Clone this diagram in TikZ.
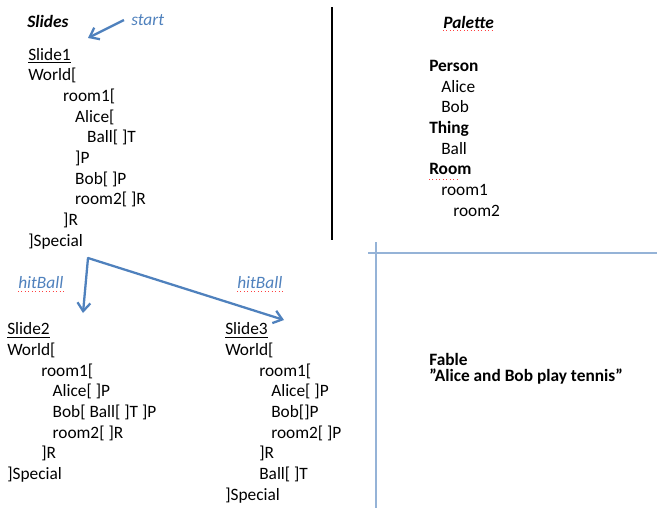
\documentclass[tikz,border=0pt]{standalone}
\usepackage{fontspec}
\setmainfont{Carlito}
\usetikzlibrary{arrows.meta,positioning}
\definecolor{arrowblue}{HTML}{4F81BD}
\definecolor{ruleblue}{HTML}{95B3D7}
\newcommand{\ind}[1]{\hspace*{#1pt}}

\begin{document}
\begin{tikzpicture}[
  x=0.75pt,y=-0.75pt,
  txtblock/.style={anchor=north west,inner sep=0pt,align=left,
    font=\fontsize{13}{15.5}\selectfont},
  lblblue/.style={anchor=west,inner sep=0pt,text=arrowblue,
    font=\fontsize{13}{15.5}\selectfont\itshape},
  flowarrow/.style={draw=arrowblue,line width=1.7pt,
    -{Straight Barb[length=2.2mm,width=3.4mm]}},
  spellmark/.style={draw=red!75,line width=0.6pt,dotted},
  splitline/.style={draw=ruleblue,line width=0.8pt}
]
\useasboundingbox[fill=white](0,0)rectangle(657,508);

% titles
\node[txtblock,anchor=west](slidesTitle)at(27,21){\textbf{\textit{Slides}}};
\node[lblblue](startLbl)at(131,20){start};
\node[txtblock,anchor=west](paletteTitle)at(443,22){\textbf{\textit{Palette}}};

% slide 1
\node[txtblock](slideOne)at(28,48){%
  \underline{Slide1}\\
  World[\\
  \ind{26.2}room1[\\
  \ind{35.2}Alice[\\
  \ind{44.2}Ball[ ]T\\
  \ind{35.2}]P\\
  \ind{35.2}Bob[ ]P\\
  \ind{35.2}room2[ ]R\\
  \ind{26.2}]R\\
  ]Special};

% slide 2 and slide 3
\node[txtblock](slideTwo)at(7,322.5){%
  \underline{Slide2}\\
  World[\\
  \ind{25.5}room1[\\
  \ind{34}Alice[ ]P\\
  \ind{34}Bob[ Ball[ ]T ]P\\
  \ind{34}room2[ ]R\\
  \ind{25.5}]R\\
  ]Special};
\node[txtblock](slideThree)at(225,322.5){%
  \underline{Slide3}\\
  World[\\
  \ind{25.5}room1[\\
  \ind{34.5}Alice[ ]P\\
  \ind{34.5}Bob[]P\\
  \ind{34.5}room2[ ]P\\
  \ind{25.5}]R\\
  \ind{25.5}Ball[ ]T\\
  ]Special};

% palette
\node[txtblock](paletteList)at(429,60){%
  \textbf{Person}\\
  \ind{9}Alice\\
  \ind{9}Bob\\
  \textbf{Thing}\\
  \ind{9}Ball\\
  \textbf{Room}\\
  \ind{9}room1\\
  \ind{18}room2};

% fable
\node[txtblock,anchor=west,font=\fontsize{13}{15.5}\selectfont\bfseries](fableTxt)at(429,359){Fable};
\node[txtblock,anchor=west,font=\fontsize{13}{15.5}\selectfont\bfseries](fableLine)at(429,377){”Alice and Bob play tennis”};

% labels on the branches
\node[lblblue](hitLeft)at(18,283){hitBall};
\node[lblblue](hitRight)at(237,283){hitBall};

% spelling marks
\draw[spellmark]([yshift=-1.5pt]hitLeft.south west)--([yshift=-1.5pt]hitLeft.south east);
\draw[spellmark]([yshift=-1.5pt]hitRight.south west)--([yshift=-1.5pt]hitRight.south east);
\draw[spellmark]([yshift=-1.5pt]paletteTitle.south west)--([yshift=-1.5pt]paletteTitle.south east);
\draw[spellmark](429,179)--(459,179);

% arrows
\coordinate(startTip)at(88,38);
\coordinate(branch)at(88,258);
\coordinate(tipTwo)at(83,313);
\coordinate(tipThree)at(284,320);
\draw[flowarrow](startLbl.west)++(-7,0)--(startTip);
\draw[flowarrow](branch)--(tipTwo);
\draw[flowarrow,line cap=round](branch)--(tipThree);

% separators
\draw[line width=2.2pt](332,7)--(332,240);
\draw[splitline](368,253)--(657,253);
\draw[splitline](376,242)--(376,508);
\end{tikzpicture}
\end{document}
